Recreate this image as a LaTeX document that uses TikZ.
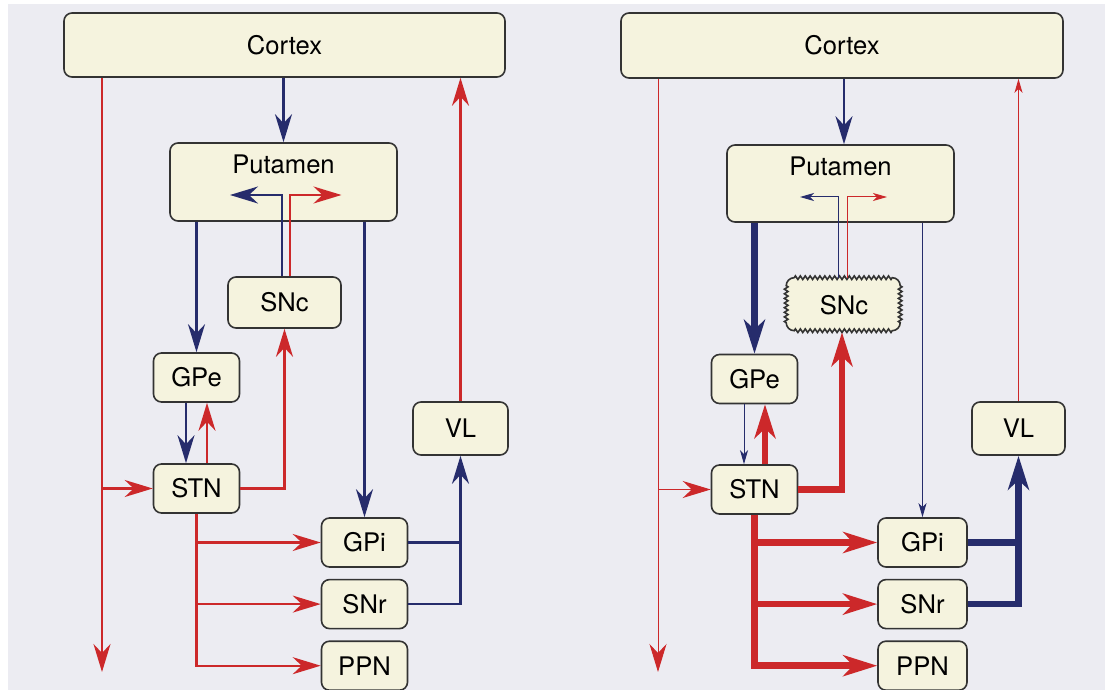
\documentclass[tikz,border=0pt]{standalone}
\usepackage{fontspec}
\setsansfont{TeX Gyre Heros}
\usetikzlibrary{arrows.meta,positioning}
\definecolor{pdred}{RGB}{204,40,42}
\definecolor{pdblue}{RGB}{38,44,108}
\definecolor{boxfill}{RGB}{245,243,222}
\definecolor{paper}{RGB}{236,236,242}

\begin{document}
\begin{tikzpicture}[
  x=0.5pt, y=-0.5pt,
  lbl/.style={font=\sffamily\fontsize{12.8}{15}\selectfont},
  box/.style={draw=black!80,line width=0.8pt,rounded corners=4pt,fill=boxfill,
              inner sep=0pt,lbl},
  small/.style={box,minimum width=43pt,minimum height=24.5pt},
  wavy/.style={box,draw=none},
  zigzagline/.style={draw=black!80,line width=0.8pt,line join=miter},
  rnorm/.style={draw=pdred,line width=1.1pt},
  bnorm/.style={draw=pdblue,line width=1.1pt},
  rthick/.style={draw=pdred,line width=3.3pt},
  bthick/.style={draw=pdblue,line width=3.3pt},
  rthin/.style={draw=pdred,line width=0.5pt},
  bthin/.style={draw=pdblue,line width=0.5pt},
  head/.style={-{Stealth[length=14pt,width=8.5pt,inset=4.5pt]}},
  bighead/.style={-{Stealth[length=17pt,width=10.5pt,inset=5pt]}},
  smallhead/.style={-{Stealth[length=7pt,width=4pt,inset=2pt]}}
]
\useasboundingbox (0,0) rectangle (1105,690);
\fill[white] (0,0) rectangle (1105,690);
\fill[paper] (8,4) rectangle (1105,690);

% normal state
\node[box,minimum width=220.5pt,minimum height=32pt] (cortexL) at (284.5,45) {Cortex};
\node[box,minimum width=113.5pt,minimum height=39pt,
      label={[lbl,anchor=north,inner sep=0pt,yshift=-6pt]north:Putamen}] (putL) at (283.5,182) {};
\node[box,minimum width=56.5pt,minimum height=25.5pt] (sncL) at (284.5,302.5) {SNc};
\node[small] (gpeL) at (196.5,377.5) {GPe};
\node[small] (stnL) at (196.5,488.5) {STN};
\node[small] (gpiL) at (364.5,542.5) {GPi};
\node[small,below=5.5pt of gpiL] (snrL) {SNr};
\node[small,below=5.5pt of snrL] (ppnL) {PPN};
\node[box,minimum width=47.5pt,minimum height=26.5pt] (vlL) at (460.5,428.5) {VL};
\coordinate (endL) at (102,672);

\draw[bnorm,head] (cortexL.south -| putL.north) -- (putL.north);
\draw[bnorm,head] ([xshift=-1.25pt]sncL.north) |- ([xshift=-26.75pt,yshift=-6.5pt]putL.center);
\draw[rnorm,head] ([xshift=2.75pt]sncL.north) |- ([xshift=29pt,yshift=-6.5pt]putL.center);
\draw[bnorm,head] (putL.south -| gpeL.north) -- (gpeL.north);
\draw[bnorm,head] (putL.south -| gpiL.north) -- (gpiL.north);
\draw[rnorm,head] (cortexL.south -| endL) -- (endL);
\draw[rnorm,head] (stnL.west -| endL) -- (stnL.west);
\draw[bnorm,head] ([xshift=-5.25pt]gpeL.south) -- ([xshift=-5.25pt]stnL.north);
\draw[rnorm,head] ([xshift=5.25pt]stnL.north) -- ([xshift=5.25pt]gpeL.south);
\draw[rnorm,head] (stnL.east) -| (sncL.south);
\draw[rnorm,head] (stnL.south) |- (ppnL.west);
\draw[rnorm,head] (stnL.south |- gpiL.west) -- (gpiL.west);
\draw[rnorm,head] (stnL.south |- snrL.west) -- (snrL.west);
\draw[bnorm] (gpiL.east) -- (gpiL.east -| vlL.south);
\draw[bnorm,head] (snrL.east) -| (vlL.south);
\draw[rnorm,head] (vlL.north) -- (vlL.north |- cortexL.south);

% parkinsonian state
\node[box,minimum width=221pt,minimum height=32.5pt] (cortexR) at (842,45.5) {Cortex};
\node[box,minimum width=113.5pt,minimum height=38.5pt,
      label={[lbl,anchor=north,inner sep=0pt,yshift=-6pt]north:Putamen}] (putR) at (840.5,183.5) {};
\node[wavy,minimum width=57pt,minimum height=26.5pt] (sncR) at (844,305) {SNc};
% jagged border of SNc
\draw[zigzagline] ([xshift=4pt]sncR.north west)
  \foreach \k in {1,...,20} { -- ++(1.225,-1.8) -- ++(2.45,3.6) -- ++(1.225,-1.8) }
  arc[start angle=90,end angle=0,radius=4pt]
  \foreach \k in {1,...,8} { -- ++(1.8,1.156) -- ++(-3.6,2.3125) -- ++(1.8,1.156) }
  arc[start angle=0,end angle=-90,radius=4pt]
  \foreach \k in {1,...,20} { -- ++(-1.225,1.8) -- ++(-2.45,-3.6) -- ++(-1.225,1.8) }
  arc[start angle=270,end angle=180,radius=4pt]
  \foreach \k in {1,...,8} { -- ++(-1.8,-1.156) -- ++(3.6,-2.3125) -- ++(-1.8,-1.156) }
  arc[start angle=180,end angle=90,radius=4pt];
\node[small] (gpeR) at (754.5,379) {GPe};
\node[small] (stnR) at (754.5,489.5) {STN};
\node[small,minimum width=44.5pt] (gpiR) at (922.5,542.5) {GPi};
\node[small,minimum width=44.5pt,below=5.5pt of gpiR] (snrR) {SNr};
\node[small,minimum width=44.5pt,below=5.5pt of snrR] (ppnR) {PPN};
\node[box,minimum width=46.5pt,minimum height=26.5pt] (vlR) at (1018.5,428.5) {VL};
\coordinate (endR) at (658,672);

\draw[bnorm,head] (cortexR.south -| sncR.north) -- (putR.north -| sncR.north);
\draw[bthin,smallhead] ([xshift=-3pt]sncR.north) |- ([xshift=-20.25pt,yshift=-6.75pt]putR.center);
\draw[rthin,smallhead] ([xshift=1.5pt]sncR.north) |- ([xshift=23.25pt,yshift=-6.75pt]putR.center);
\draw[bthick,bighead] (putR.south -| gpeR.north) -- (gpeR.north);
\draw[bthin,smallhead] (putR.south -| gpiR.north) -- (gpiR.north);
\draw[rthin,head] (cortexR.south -| endR) -- (endR);
\draw[rthin,head] (stnR.west -| endR) -- (stnR.west);
\draw[bthin,smallhead] ([xshift=-5.25pt]gpeR.south) -- ([xshift=-5.25pt]stnR.north);
\draw[rthick,bighead] ([xshift=5.25pt]stnR.north) -- ([xshift=5.25pt]gpeR.south);
\draw[rthick,bighead] (stnR.east) -| ([xshift=-1pt]sncR.south);
\draw[rthick,bighead] (stnR.south) |- (ppnR.west);
\draw[rthick,bighead] (stnR.south |- gpiR.west) -- (gpiR.west);
\draw[rthick,bighead] (stnR.south |- snrR.west) -- (snrR.west);
\draw[bthick] (gpiR.east) -- (gpiR.east -| vlR.south);
\draw[bthick,bighead] (snrR.east) -| (vlR.south);
\draw[rthin,smallhead] (vlR.north) -- (vlR.north |- cortexR.south);
\end{tikzpicture}
\end{document}
